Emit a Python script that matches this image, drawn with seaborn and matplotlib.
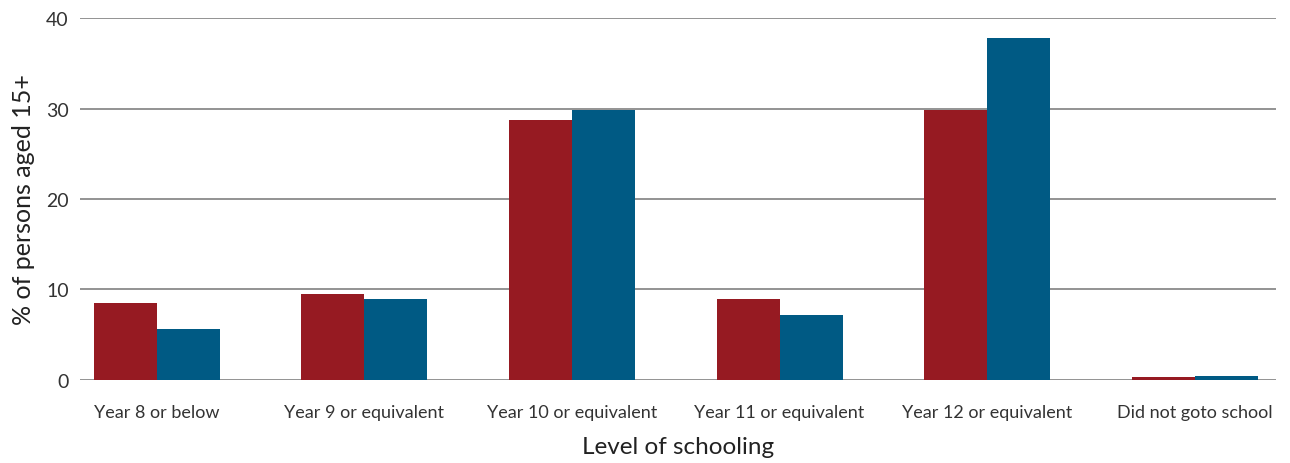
import matplotlib
matplotlib.use("Agg")
import matplotlib.pyplot as plt
import seaborn as sns
import pandas as pd

categories = ["Year 8 or below", "Year 9 or equivalent", "Year 10 or equivalent",
              "Year 11 or equivalent", "Year 12 or equivalent", "Did not goto school"]
series_names = ["Series 1", "Series 2"]
series1 = [8.5, 9.5, 28.7, 9.0, 29.85, 0.3]
series2 = [5.6, 9.0, 29.85, 7.2, 37.8, 0.4]
colors = ["#961A22", "#005A84"]
yticks = [0, 10, 20, 30, 40]

df = pd.DataFrame({
    "cat": categories * 2,
    "val": series1 + series2,
    "series": [series_names[0]] * len(categories) + [series_names[1]] * len(categories),
})

sns.set_theme(style="white")
plt.rcParams["font.family"] = ["Lato", "DejaVu Sans"]

fig = plt.figure(figsize=(12.9, 4.64), dpi=100)
ax = fig.add_axes([0.062, 0.179, 0.927, 0.780])
sns.barplot(data=df, x="cat", y="val", hue="series", palette=colors,
            width=0.607, saturation=1, legend=False, ax=ax, zorder=3)
for p in ax.patches:
    p.set_edgecolor("none")

ax.set_ylim(0, 40)
ax.set_xlim(-0.37, 5.39)
ax.set_yticks(yticks)
ax.yaxis.grid(True, color="#8a8a8a", linewidth=1.3, zorder=0)
ax.set_axisbelow(True)
for s in ax.spines.values():
    s.set_visible(False)
ax.tick_params(axis="y", labelsize=14, labelcolor="#333333", length=0, pad=8)
ax.tick_params(axis="x", labelsize=13, labelcolor="#333333", length=0, pad=17)
ax.set_ylabel("% of persons aged 15+", fontsize=18, color="#222222", labelpad=8)
ax.set_xlabel("Level of schooling", fontsize=17.5, color="#222222", labelpad=12)

fig.savefig("out.png", dpi=100)
